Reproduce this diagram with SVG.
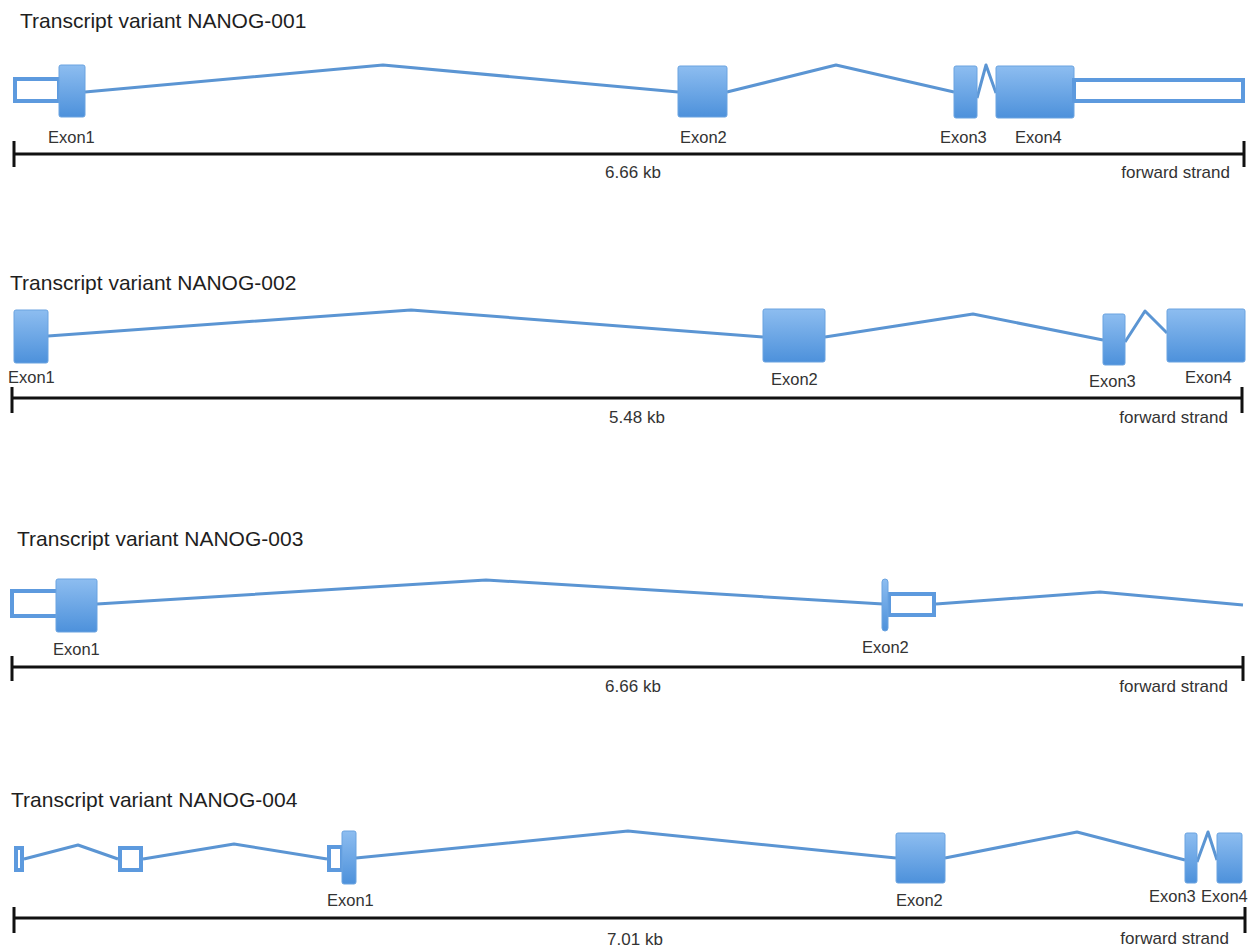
<svg xmlns="http://www.w3.org/2000/svg" width="1254" height="949" viewBox="0 0 1254 949">
  <defs>
    <linearGradient id="exonFill" x1="0" y1="0" x2="0" y2="1">
      <stop offset="0" stop-color="#8dbdf0"/>
      <stop offset="1" stop-color="#4d91db"/>
    </linearGradient>
    <style>
      .title { font-family: "Liberation Sans", Arial, sans-serif; font-size: 21px; fill: #1e1e1e; }
      .lbl { font-family: "Liberation Sans", Arial, sans-serif; font-size: 16.5px; fill: #333; }
      .scale-txt { font-family: "Liberation Sans", Arial, sans-serif; font-size: 17px; fill: #333; }
      .exon { fill: url(#exonFill); stroke: #6aa3e0; stroke-width: 1; }
      .utr { fill: #ffffff; stroke: #5d9ade; stroke-width: 4; }
      .intron { fill: none; stroke: #5b95d3; stroke-width: 3; stroke-linejoin: round; }
      .bar { fill: none; stroke: #111; stroke-width: 3; }
    </style>
  </defs>
  <rect width="1254" height="949" fill="#ffffff"/>

  <!-- NANOG-001 -->
  <g id="nanog-001">
    <text class="title" x="20" y="28">Transcript variant NANOG-001</text>
    <g id="t1-connectors">
      <polyline class="intron" points="85,92 383,65 678,92"/>
      <polyline class="intron" points="727,92 836,65 954,92"/>
      <polyline class="intron" points="977,98 986,65 996,93"/>
    </g>
    <g id="t1-utr5"><rect class="utr" x="15" y="79" width="44" height="22"/></g>
    <g id="t1-exon1"><rect class="exon" x="59" y="65" width="26" height="52" rx="2"/><text class="lbl" x="48" y="143">Exon1</text></g>
    <g id="t1-exon2"><rect class="exon" x="678" y="66" width="49" height="51" rx="2"/><text class="lbl" x="680" y="143">Exon2</text></g>
    <g id="t1-exon3"><rect class="exon" x="954" y="66" width="23" height="52" rx="2"/><text class="lbl" x="940" y="143">Exon3</text></g>
    <g id="t1-exon4"><rect class="exon" x="996" y="66" width="78" height="52" rx="2"/><text class="lbl" x="1015" y="143">Exon4</text></g>
    <g id="t1-utr3"><rect class="utr" x="1074" y="80" width="169" height="21"/></g>
    <g id="t1-scale">
      <path class="bar" d="M14,154 H1244 M14,141 V167 M1244,141 V167"/>
      <text class="scale-txt" x="633" y="178" text-anchor="middle">6.66 kb</text>
      <text class="scale-txt" x="1230" y="178" text-anchor="end">forward strand</text>
    </g>
  </g>

  <!-- NANOG-002 -->
  <g id="nanog-002">
    <text class="title" x="10" y="290">Transcript variant NANOG-002</text>
    <g id="t2-connectors">
      <polyline class="intron" points="48,336 411,310 763,337"/>
      <polyline class="intron" points="825,337 973,314 1103,340"/>
      <polyline class="intron" points="1125,342 1145,311 1167,333"/>
    </g>
    <g id="t2-exon1"><rect class="exon" x="14" y="310" width="34" height="53" rx="2"/><text class="lbl" x="8" y="383">Exon1</text></g>
    <g id="t2-exon2"><rect class="exon" x="763" y="309" width="62" height="53" rx="2"/><text class="lbl" x="771" y="385">Exon2</text></g>
    <g id="t2-exon3"><rect class="exon" x="1103" y="314" width="22" height="51" rx="2"/><text class="lbl" x="1089" y="387">Exon3</text></g>
    <g id="t2-exon4"><rect class="exon" x="1167" y="309" width="78" height="53" rx="2"/><text class="lbl" x="1185" y="383">Exon4</text></g>
    <g id="t2-scale">
      <path class="bar" d="M12,398 H1242 M12,387 V413 M1242,387 V413"/>
      <text class="scale-txt" x="637" y="423" text-anchor="middle">5.48 kb</text>
      <text class="scale-txt" x="1228" y="423" text-anchor="end">forward strand</text>
    </g>
  </g>

  <!-- NANOG-003 -->
  <g id="nanog-003">
    <text class="title" x="17" y="546">Transcript variant NANOG-003</text>
    <g id="t3-connectors">
      <polyline class="intron" points="97,604 486,580 883,604"/>
      <polyline class="intron" points="936,604 1100,592 1243,605"/>
    </g>
    <g id="t3-utr5"><rect class="utr" x="12" y="591" width="46" height="25"/></g>
    <g id="t3-exon1"><rect class="exon" x="56" y="579" width="41" height="53" rx="2"/><text class="lbl" x="53" y="655">Exon1</text></g>
    <g id="t3-utr3"><rect class="utr" x="889" y="594" width="45" height="21"/></g>
    <g id="t3-exon2"><rect class="exon" x="882" y="579" width="6" height="52" rx="3"/><text class="lbl" x="862" y="653">Exon2</text></g>
    <g id="t3-scale">
      <path class="bar" d="M12,667 H1243 M12,656 V681 M1243,656 V681"/>
      <text class="scale-txt" x="633" y="692" text-anchor="middle">6.66 kb</text>
      <text class="scale-txt" x="1228" y="692" text-anchor="end">forward strand</text>
    </g>
  </g>

  <!-- NANOG-004 -->
  <g id="nanog-004">
    <text class="title" x="11" y="807">Transcript variant NANOG-004</text>
    <g id="t4-connectors">
      <polyline class="intron" points="24,859 78,845 118,859"/>
      <polyline class="intron" points="143,859 234,844 327,859"/>
      <polyline class="intron" points="356,858 628,831 896,858"/>
      <polyline class="intron" points="945,858 1077,832 1185,860"/>
      <polyline class="intron" points="1197,862 1208,832 1217,860"/>
    </g>
    <g id="t4-utr-a"><rect class="utr" x="16" y="848" width="6" height="22"/></g>
    <g id="t4-utr-b"><rect class="utr" x="120" y="848" width="21" height="22"/></g>
    <g id="t4-utr-c"><rect class="utr" x="329" y="847" width="13" height="23"/></g>
    <g id="t4-exon1"><rect class="exon" x="342" y="831" width="14" height="53" rx="2"/><text class="lbl" x="327" y="906">Exon1</text></g>
    <g id="t4-exon2"><rect class="exon" x="896" y="833" width="49" height="50" rx="2"/><text class="lbl" x="896" y="906">Exon2</text></g>
    <g id="t4-exon3"><rect class="exon" x="1185" y="833" width="12" height="50" rx="2"/><text class="lbl" x="1149" y="902">Exon3</text></g>
    <g id="t4-exon4"><rect class="exon" x="1217" y="833" width="25" height="50" rx="2"/><text class="lbl" x="1201" y="902">Exon4</text></g>
    <g id="t4-scale">
      <path class="bar" d="M14,918 H1245 M14,907 V933 M1245,907 V933"/>
      <text class="scale-txt" x="635" y="945" text-anchor="middle">7.01 kb</text>
      <text class="scale-txt" x="1229" y="944" text-anchor="end">forward strand</text>
    </g>
  </g>
</svg>
